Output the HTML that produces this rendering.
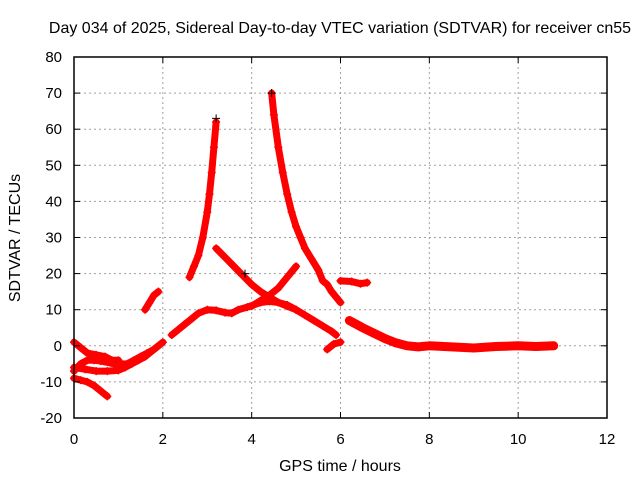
<!DOCTYPE html>
<html><head><meta charset="utf-8"><style>
body{margin:0;background:#fff}
svg{display:block;font-family:"Liberation Sans",Arial,sans-serif}
</style></head><body>
<svg id="chart" width="640" height="480">
<rect width="640" height="480" fill="#fff"/>
<text x="340" y="33" font-size="16" text-anchor="middle">Day 034 of 2025, Sidereal Day-to-day VTEC variation (SDTVAR) for receiver cn55</text>
<text x="340" y="471" font-size="16" text-anchor="middle">GPS time / hours</text>
<text transform="translate(20,238) rotate(-90)" font-size="16" text-anchor="middle">SDTVAR / TECUs</text>
<g id="grid"></g><g id="marks"></g><g id="axes"></g>
</svg>
<script>
const xTicks=[0,2,4,6,8,10,12];
const yTicks=[-20,-10,0,10,20,30,40,50,60,70,80];
const trackA=[[2.6,19],[2.7,22],[2.8,25],[2.9,30],[3.0,37],[3.05,42],[3.1,48],[3.15,55],[3.2,62]];
const trackB=[[4.45,70],[4.5,64],[4.6,55],[4.7,48],[4.8,42],[4.9,37],[5.0,33],[5.1,30],[5.2,27],[5.35,24],[5.5,21],[5.6,18],[5.7,17],[5.8,15],[5.9,13.5],[6.0,12]];
const trackC=[[3.2,27],[3.4,24.5],[3.6,22],[3.8,19.5],[4.0,17],[4.2,15],[4.4,13.5],[4.6,12],[4.8,11],[5.0,10]];
const trackD=[[4.0,11],[4.2,12.5],[4.4,14],[4.6,16],[4.8,19],[5.0,22]];
const trackE=[[2.2,3],[2.35,4.5],[2.5,6],[2.65,7.5],[2.8,9],[3.0,10],[3.2,9.8],[3.4,9.2],[3.55,9],[3.7,10],[3.9,10.7],[4.2,12],[4.4,12.3],[4.6,12],[4.8,11.3],[5.0,10],[5.2,8.5],[5.4,7],[5.6,5.5],[5.8,4],[5.9,3]];
const trackF=[[1.6,10],[1.7,12],[1.8,14],[1.9,15]];
const trackG=[[5.7,-1],[5.85,0.5],[6.0,1]];
const trackH=[[6.0,18],[6.25,17.8],[6.45,17.2],[6.6,17.5]];
const trackI=[[6.2,7],[6.35,6],[6.5,5],[6.75,3.5],[7.0,2],[7.25,0.8],[7.5,0],[7.75,-0.3],[8.0,0],[8.5,-0.3],[9.0,-0.6],[9.5,-0.2],[10.0,0],[10.4,-0.2],[10.8,0]];
const trackJ=[[0,1],[0.15,-0.5],[0.3,-2],[0.5,-2.5],[0.7,-3],[0.85,-4],[1.0,-4]];
const trackK=[[0,-6],[0.25,-6.5],[0.5,-7],[0.75,-7],[1.0,-6.8],[1.15,-6],[1.3,-5],[1.45,-4],[1.6,-3],[1.75,-1.5],[1.9,0]];
const trackL=[[0,-9],[0.15,-9.5],[0.3,-10],[0.45,-11],[0.6,-12.5],[0.75,-14]];
const trackM=[[0,-7],[0.15,-5],[0.3,-4],[0.45,-4],[0.6,-4.2],[0.9,-5],[1.2,-5],[1.35,-4],[1.5,-3],[1.65,-2],[1.8,-1],[2.0,1]];
const blackPts=[[3.2,63],[4.45,70],[3.85,20]];
const tracks=[trackA,trackB,trackC,trackD,trackE,trackF,trackG,trackH,trackI,trackJ,trackK,trackL,trackM];
const trackNames=['track-a','track-b','track-c','track-d','track-e','track-f','track-g','track-h','track-i','track-j','track-k','track-l','track-m'];
const X0=74,X1=607,Y0=418,Y1=57;
const sx=v=>X0+(v-0)/12*(X1-X0);
const sy=v=>Y0-(v+20)/100*(Y0-Y1);
const NS='http://www.w3.org/2000/svg';
function mk(t,a,p){const e=document.createElementNS(NS,t);for(const k in a)e.setAttribute(k,a[k]);p.appendChild(e);return e;}
const grid=document.getElementById('grid'),axes=document.getElementById('axes'),marks=document.getElementById('marks');
xTicks.forEach(t=>{const x=sx(t);
 if(t>0&&t<12){const g=mk('line',{x1:x,x2:x,y1:Y1,y2:Y0,stroke:'#a0a0a0','stroke-dasharray':'2,3'},grid);
 
 }
 mk('line',{x1:x,x2:x,y1:Y0,y2:Y0-6,stroke:'#000'},axes);mk('line',{x1:x,x2:x,y1:Y1,y2:Y1+6,stroke:'#000'},axes);
 const l=mk('text',{x:x,y:444,'font-size':15,'text-anchor':'middle'},axes);l.textContent=t;
 
 });
yTicks.forEach(t=>{const y=sy(t);
 if(t>-20&&t<80){const g=mk('line',{x1:X0,x2:X1,y1:y,y2:y,stroke:'#a0a0a0','stroke-dasharray':'2,3'},grid);
 
 }
 mk('line',{x1:X0,x2:X0+6,y1:y,y2:y,stroke:'#000'},axes);mk('line',{x1:X1,x2:X1-6,y1:y,y2:y,stroke:'#000'},axes);
 const l=mk('text',{x:62,y:y+5,'font-size':15,'text-anchor':'end'},axes);l.textContent=t;
 
 });
const b=mk('rect',{x:X0,y:Y1,width:X1-X0,height:Y0-Y1,fill:'none',stroke:'#000','stroke-width':1.5},axes);


tracks.forEach((tr,i)=>{
 const g=mk('g',{},marks);
 
 
 mk('polyline',{points:tr.map(p=>sx(p[0])+','+sy(p[1])).join(' '),fill:'none',stroke:'#f00','stroke-width':(i===8?9:7),'stroke-linejoin':'round','stroke-linecap':'round'},g);
 tr.forEach(p=>{const x=sx(p[0]),y=sy(p[1]);
  mk('path',{d:`M${x-4},${y}h8M${x},${y-4}v8`,stroke:'#f00','stroke-width':1.5},g);});
});
blackPts.forEach(p=>{const x=sx(p[0]),y=sy(p[1]);
 const m=mk('path',{d:`M${x-4},${y}h8M${x},${y-4}v8`,stroke:'#000','stroke-width':1},marks);
 
 });
</script>
</body></html>
